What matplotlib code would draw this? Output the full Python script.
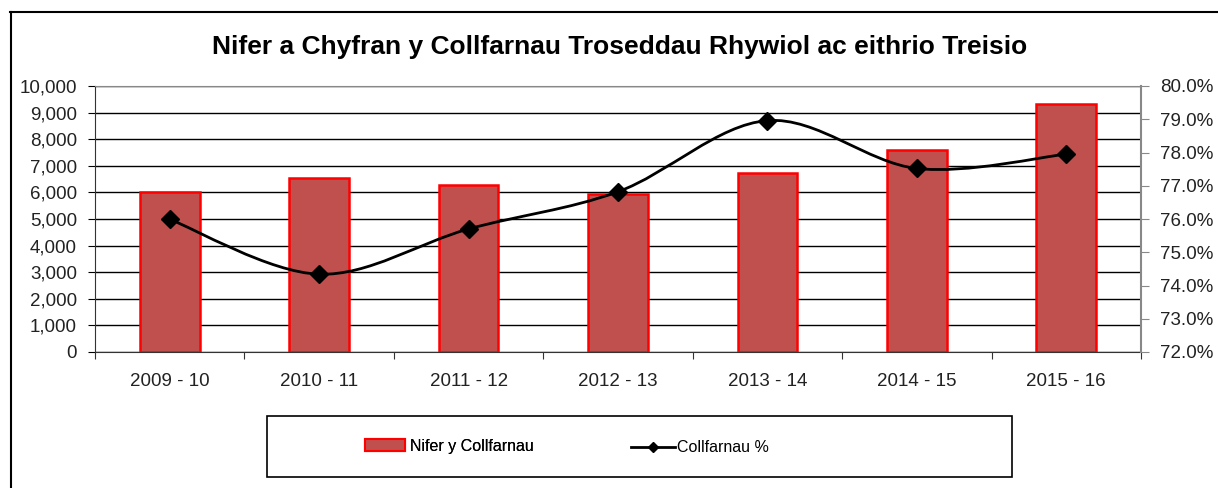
import matplotlib
matplotlib.use("Agg")
import matplotlib.pyplot as plt
from matplotlib.path import Path
from matplotlib.patches import PathPatch, Rectangle, Patch
from matplotlib.lines import Line2D
from matplotlib.ticker import FuncFormatter, MultipleLocator
import numpy as np

plt.rcParams["font.family"] = ["Liberation Sans", "DejaVu Sans"]

# data
years = ["2009 - 10", "2010 - 11", "2011 - 12", "2012 - 13", "2013 - 14", "2014 - 15", "2015 - 16"]
convictions = [6030, 6550, 6280, 5940, 6740, 7580, 9320]
conviction_pct = [75.99, 74.34, 75.70, 76.82, 78.96, 77.52, 77.95]

W, H = 1218, 488
fig = plt.figure(figsize=(W / 100, H / 100), dpi=100)
ax = fig.add_axes([95 / W, 1 - 352 / H, (1141 - 95) / W, (352 - 86) / H])
ax2 = ax.twinx()

x = np.arange(len(years))
ax.bar(x, convictions, width=0.4, color="#c0504d", edgecolor="#ff0000", linewidth=1.8, zorder=3)
ax.set_xlim(-0.5, len(years) - 0.5)
ax.set_ylim(0, 10000)
ax.yaxis.set_major_locator(MultipleLocator(1000))
ax.yaxis.set_major_formatter(FuncFormatter(lambda v, p: f"{int(v):,}"))
ax.grid(axis="y", color="black", linewidth=1.0, zorder=0)
ax.set_axisbelow(True)

# category ticks between bars, labels at bar centres
ax.set_xticks(np.arange(-0.5, len(years) + 0.5, 1.0))
ax.set_xticklabels([])
ax.set_xticks(x, minor=True)
ax.set_xticklabels(years, minor=True)
ax.tick_params(axis="x", which="major", direction="out", length=5, color="#333333")
ax.tick_params(axis="x", which="minor", length=0, pad=15, labelsize=13.5, labelcolor="#222222")
ax.tick_params(axis="y", direction="out", length=5, labelsize=13.5, labelcolor="#222222", pad=8)

ax.spines["top"].set_color("#888888")
ax.spines["right"].set_visible(False)
ax.spines["left"].set_color("#333333")
ax.spines["bottom"].set_color("#333333")
for s in ["top", "left", "bottom"]:
    ax2.spines[s].set_visible(False)
ax2.spines["right"].set_color("#888888")
ax2.spines["right"].set_linewidth(1.5)

ax2.set_ylim(72, 80)
ax2.yaxis.set_major_locator(MultipleLocator(1))
ax2.yaxis.set_major_formatter(FuncFormatter(lambda v, p: f"{v:.1f}%"))
ax2.tick_params(axis="y", direction="out", length=6, color="#888888", labelsize=13.5,
                labelcolor="#222222", pad=8)

# smoothed line (Catmull-Rom style bezier through the points)
pts = np.column_stack([x, conviction_pct]).astype(float)
verts = [tuple(pts[0])]
codes = [Path.MOVETO]
n = len(pts)
for i in range(n - 1):
    p0 = pts[max(i - 1, 0)]
    p1 = pts[i]
    p2 = pts[i + 1]
    p3 = pts[min(i + 2, n - 1)]
    c1 = p1 + (p2 - p0) / 6
    c2 = p2 - (p3 - p1) / 6
    verts += [tuple(c1), tuple(c2), tuple(p2)]
    codes += [Path.CURVE4] * 3
ax2.add_patch(PathPatch(Path(verts, codes), facecolor="none", edgecolor="black", linewidth=2, zorder=4))
ax2.plot(x, conviction_pct, linestyle="none", marker="D", markersize=9, color="black", zorder=5)

fig.text(620 / W, 1 - 47 / H, "Nifer a Chyfran y Collfarnau Troseddau Rhywiol ac eithrio Treisio",
         ha="center", va="center", fontsize=19, fontweight="bold")

# legend box and entries
fig.patches.append(Rectangle((267 / W, 1 - 477 / H), (1012 - 267) / W, (477 - 416) / H,
                             transform=fig.transFigure, facecolor="none", edgecolor="black", linewidth=1.2))
leg1 = fig.legend([Patch(facecolor="#c0504d", edgecolor="#ff0000", linewidth=1.5)], ["Nifer y Collfarnau"],
                  frameon=False, loc="center left", bbox_to_anchor=(351 / W, 1 - 446 / H), fontsize=11.5,
                  handlelength=2.5, handleheight=0.7, handletextpad=0.3)
leg2 = fig.legend([Line2D([], [], color="black", linewidth=2, marker="D", markersize=5)], ["Collfarnau %"],
                  frameon=False, loc="center left", bbox_to_anchor=(617 / W, 1 - 448 / H), fontsize=11.5,
                  handlelength=2.7, handletextpad=0.15)
fig.add_artist(leg1)

# chart border (cropped at right and bottom)
fig.add_artist(Line2D([10.5 / W, 10.5 / W], [0, 1 - 12 / H], transform=fig.transFigure, color="black", linewidth=1.5))
fig.add_artist(Line2D([10 / W, 1], [1 - 12 / H, 1 - 12 / H], transform=fig.transFigure, color="black", linewidth=1.5))

fig.savefig("out.png", dpi=100)
